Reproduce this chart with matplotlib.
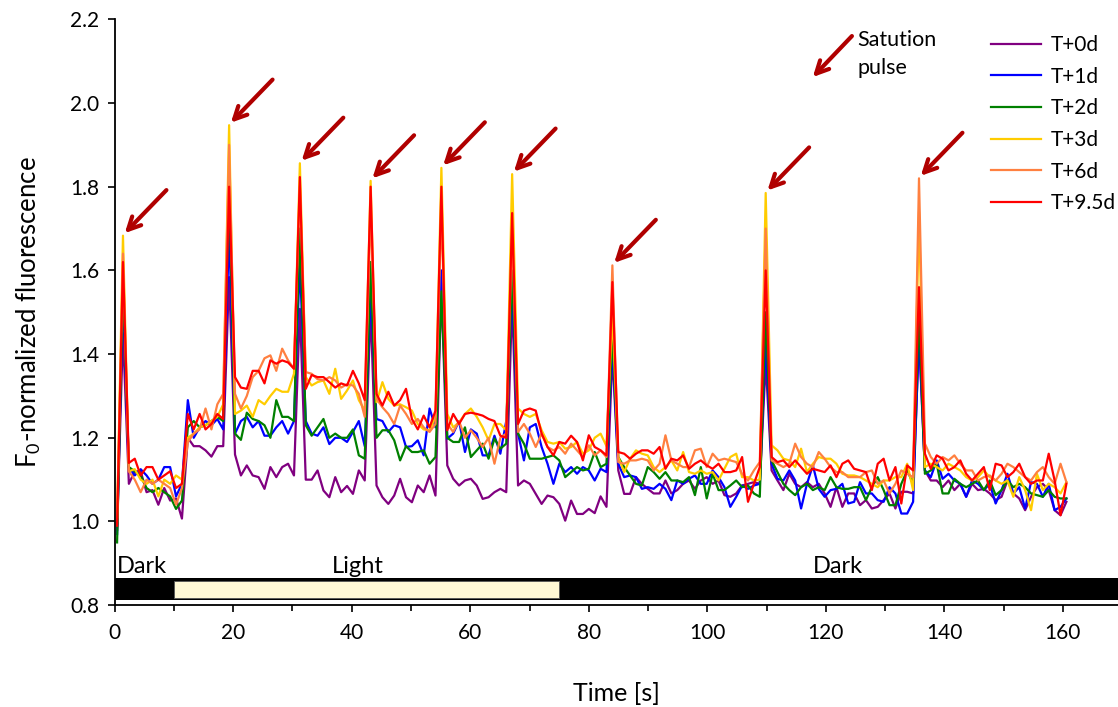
import numpy as np
import matplotlib
matplotlib.use('Agg')
import matplotlib.pyplot as plt
from matplotlib.patches import Rectangle

plt.rcParams['font.family'] = ['Lato', 'DejaVu Sans']
plt.rcParams['mathtext.fontset'] = 'custom'
plt.rcParams['mathtext.rm'] = 'Lato'

# sampling: one point roughly every second
n_points = 162
time_s = 0.4 + 0.995 * np.arange(n_points)

# indices of the saturation pulses
pulse_idx = [1, 19, 31, 43, 55, 67, 84, 110, 136]

t0d = [0.98, 1.45, 1.09, 1.12, 1.12, 1.07, 1.075, 1.04, 1.08, 1.05,
       1.055, 1.007, 1.20, 1.18, 1.18, 1.17, 1.155, 1.18, 1.18, 1.584,
       1.16, 1.11, 1.134, 1.11, 1.106, 1.078, 1.13, 1.106, 1.13, 1.138,
       1.11, 1.508, 1.10, 1.10, 1.122, 1.074, 1.058, 1.106, 1.07, 1.085,
       1.066, 1.122, 1.098, 1.51, 1.086, 1.058, 1.042, 1.062, 1.102, 1.058,
       1.046, 1.086, 1.07, 1.11, 1.062, 1.556, 1.134, 1.102, 1.086, 1.098,
       1.102, 1.086, 1.054, 1.058, 1.07, 1.078, 1.07, 1.528, 1.086, 1.098,
       1.09, 1.066, 1.042, 1.062, 1.058, 1.042, 1.002, 1.05, 1.018, 1.018,
       1.03, 1.02, 1.06, 1.035, 1.40, 1.122, 1.066, 1.066, 1.106, 1.09,
       1.078, 1.067, 1.067, 1.098, 1.067, 1.075, 1.09, 1.098, 1.078, 1.098,
       1.106, 1.09, 1.098, 1.063, 1.059, 1.067, 1.086, 1.09, 1.094, 1.09,
       1.38, 1.122, 1.098, 1.075, 1.114, 1.09, 1.082, 1.094, 1.082, 1.09,
       1.067, 1.035, 1.082, 1.035, 1.067, 1.067, 1.039, 1.051, 1.031, 1.035,
       1.051, 1.067, 1.031, 1.071, 1.071, 1.067, 1.44, 1.122, 1.098, 1.098,
       1.082, 1.098, 1.075, 1.09, 1.059, 1.09, 1.075, 1.078, 1.067, 1.051,
       1.059, 1.098, 1.067, 1.055, 1.027, 1.059, 1.082, 1.09, 1.075, 1.027,
       1.015, 1.047]

t1d = [0.97, 1.55, 1.13, 1.11, 1.125, 1.11, 1.09, 1.10, 1.13, 1.13,
       1.06, 1.09, 1.29, 1.20, 1.225, 1.24, 1.23, 1.245, 1.22, 1.70,
       1.21, 1.24, 1.25, 1.225, 1.24, 1.205, 1.205, 1.225, 1.24, 1.21,
       1.24, 1.62, 1.24, 1.21, 1.205, 1.225, 1.185, 1.20, 1.20, 1.19,
       1.214, 1.24, 1.18, 1.55, 1.245, 1.24, 1.214, 1.23, 1.225, 1.178,
       1.18, 1.194, 1.158, 1.27, 1.225, 1.60, 1.198, 1.21, 1.24, 1.166,
       1.22, 1.21, 1.158, 1.158, 1.205, 1.162, 1.24, 1.55, 1.21, 1.146,
       1.225, 1.233, 1.178, 1.138, 1.09, 1.138, 1.118, 1.13, 1.114, 1.13,
       1.122, 1.098, 1.126, 1.118, 1.42, 1.138, 1.106, 1.11, 1.106, 1.078,
       1.082, 1.078, 1.09, 1.078, 1.051, 1.098, 1.09, 1.102, 1.11, 1.09,
       1.09, 1.122, 1.106, 1.082, 1.035, 1.059, 1.086, 1.078, 1.086, 1.09,
       1.43, 1.138, 1.102, 1.098, 1.122, 1.098, 1.031, 1.09, 1.134, 1.078,
       1.059, 1.075, 1.078, 1.09, 1.043, 1.047, 1.094, 1.067, 1.067, 1.051,
       1.047, 1.082, 1.067, 1.019, 1.019, 1.047, 1.45, 1.122, 1.106, 1.146,
       1.102, 1.114, 1.098, 1.09, 1.059, 1.098, 1.09, 1.075, 1.09, 1.043,
       1.075, 1.114, 1.067, 1.082, 1.031, 1.094, 1.09, 1.059, 1.09, 1.027,
       1.035, 1.055]

t2d = [0.95, 1.58, 1.13, 1.12, 1.11, 1.08, 1.07, 1.08, 1.07, 1.06,
       1.03, 1.05, 1.225, 1.24, 1.225, 1.23, 1.24, 1.25, 1.24, 1.82,
       1.21, 1.195, 1.26, 1.245, 1.24, 1.23, 1.20, 1.29, 1.25, 1.25,
       1.24, 1.70, 1.23, 1.205, 1.225, 1.245, 1.20, 1.21, 1.20, 1.20,
       1.22, 1.158, 1.15, 1.62, 1.20, 1.218, 1.218, 1.194, 1.146, 1.18,
       1.166, 1.166, 1.17, 1.138, 1.154, 1.55, 1.20, 1.19, 1.19, 1.225,
       1.154, 1.17, 1.186, 1.15, 1.198, 1.174, 1.186, 1.60, 1.21, 1.186,
       1.15, 1.15, 1.15, 1.154, 1.158, 1.146, 1.106, 1.118, 1.13, 1.122,
       1.126, 1.166, 1.13, 1.138, 1.45, 1.154, 1.13, 1.11, 1.09, 1.086,
       1.13, 1.118, 1.102, 1.118, 1.098, 1.098, 1.094, 1.106, 1.063, 1.13,
       1.055, 1.114, 1.075, 1.075, 1.086, 1.098, 1.082, 1.086, 1.067, 1.059,
       1.50, 1.146, 1.118, 1.09, 1.075, 1.063, 1.082, 1.09, 1.075, 1.082,
       1.075, 1.106, 1.082, 1.078, 1.078, 1.082, 1.082, 1.051, 1.082, 1.106,
       1.075, 1.039, 1.039, 1.09, 1.122, 1.09, 1.50, 1.114, 1.122, 1.138,
       1.067, 1.067, 1.102, 1.09, 1.082, 1.09, 1.098, 1.075, 1.098, 1.063,
       1.075, 1.098, 1.082, 1.09, 1.082, 1.067, 1.063, 1.059, 1.075, 1.059,
       1.055, 1.055]

t3d = [1.01, 1.683, 1.12, 1.125, 1.10, 1.09, 1.10, 1.06, 1.10, 1.09,
       1.11, 1.10, 1.20, 1.21, 1.225, 1.23, 1.24, 1.25, 1.28, 1.947,
       1.257, 1.265, 1.277, 1.25, 1.29, 1.28, 1.30, 1.317, 1.31, 1.31,
       1.353, 1.856, 1.345, 1.325, 1.333, 1.337, 1.305, 1.365, 1.293, 1.313,
       1.337, 1.29, 1.265, 1.814, 1.285, 1.333, 1.293, 1.277, 1.28, 1.273,
       1.265, 1.233, 1.22, 1.218, 1.25, 1.845, 1.257, 1.225, 1.237, 1.257,
       1.27, 1.25, 1.225, 1.194, 1.233, 1.233, 1.218, 1.83, 1.27, 1.257,
       1.25, 1.257, 1.218, 1.19, 1.186, 1.19, 1.174, 1.178, 1.19, 1.162,
       1.17, 1.20, 1.21, 1.18, 1.50, 1.154, 1.118, 1.15, 1.17, 1.162,
       1.158, 1.13, 1.118, 1.13, 1.146, 1.122, 1.166, 1.118, 1.114, 1.122,
       1.114, 1.118, 1.098, 1.126, 1.154, 1.162, 1.106, 1.106, 1.098, 1.10,
       1.785, 1.182, 1.17, 1.15, 1.146, 1.13, 1.174, 1.118, 1.138, 1.154,
       1.15, 1.15, 1.138, 1.114, 1.11, 1.11, 1.106, 1.098, 1.09, 1.082,
       1.098, 1.098, 1.106, 1.106, 1.138, 1.075, 1.74, 1.13, 1.138, 1.13,
       1.122, 1.138, 1.13, 1.122, 1.106, 1.098, 1.106, 1.122, 1.106, 1.098,
       1.09, 1.098, 1.059, 1.106, 1.075, 1.027, 1.114, 1.075, 1.09, 1.082,
       1.067, 1.094]

t6d = [1.00, 1.64, 1.12, 1.10, 1.07, 1.10, 1.09, 1.10, 1.09, 1.08,
       1.04, 1.08, 1.19, 1.21, 1.22, 1.27, 1.22, 1.28, 1.305, 1.90,
       1.305, 1.27, 1.30, 1.345, 1.36, 1.39, 1.397, 1.36, 1.413, 1.385,
       1.365, 1.80, 1.357, 1.353, 1.34, 1.337, 1.345, 1.337, 1.32, 1.328,
       1.325, 1.305, 1.25, 1.75, 1.293, 1.273, 1.257, 1.233, 1.277, 1.257,
       1.233, 1.245, 1.225, 1.214, 1.233, 1.75, 1.233, 1.214, 1.24, 1.20,
       1.218, 1.20, 1.178, 1.20, 1.138, 1.20, 1.21, 1.70, 1.214, 1.233,
       1.21, 1.178, 1.21, 1.178, 1.17, 1.178, 1.162, 1.186, 1.17, 1.154,
       1.182, 1.158, 1.17, 1.154, 1.612, 1.142, 1.138, 1.146, 1.146, 1.15,
       1.146, 1.122, 1.138, 1.206, 1.146, 1.138, 1.13, 1.13, 1.17, 1.174,
       1.13, 1.162, 1.146, 1.15, 1.146, 1.142, 1.114, 1.098, 1.122, 1.142,
       1.70, 1.146, 1.138, 1.13, 1.138, 1.186, 1.154, 1.138, 1.13, 1.166,
       1.15, 1.13, 1.118, 1.118, 1.106, 1.106, 1.106, 1.118, 1.122, 1.09,
       1.098, 1.067, 1.09, 1.122, 1.114, 1.106, 1.82, 1.186, 1.154, 1.138,
       1.154, 1.146, 1.158, 1.138, 1.122, 1.122, 1.098, 1.106, 1.11, 1.098,
       1.114, 1.138, 1.13, 1.118, 1.106, 1.098, 1.118, 1.13, 1.106, 1.09,
       1.138, 1.094]

t9_5d = [0.99, 1.62, 1.14, 1.15, 1.11, 1.13, 1.13, 1.10, 1.11, 1.12,
         1.08, 1.09, 1.257, 1.22, 1.257, 1.22, 1.233, 1.257, 1.245, 1.80,
         1.345, 1.32, 1.317, 1.36, 1.36, 1.33, 1.385, 1.377, 1.385, 1.38,
         1.365, 1.823, 1.317, 1.35, 1.345, 1.345, 1.333, 1.32, 1.33, 1.325,
         1.36, 1.33, 1.29, 1.80, 1.305, 1.277, 1.31, 1.277, 1.29, 1.317,
         1.245, 1.22, 1.253, 1.225, 1.265, 1.80, 1.218, 1.257, 1.233, 1.257,
         1.26, 1.257, 1.253, 1.245, 1.24, 1.205, 1.20, 1.737, 1.233, 1.265,
         1.27, 1.265, 1.21, 1.178, 1.158, 1.19, 1.186, 1.205, 1.19, 1.146,
         1.206, 1.178, 1.17, 1.158, 1.572, 1.166, 1.162, 1.15, 1.162, 1.17,
         1.17, 1.162, 1.178, 1.126, 1.15, 1.146, 1.158, 1.126, 1.138, 1.146,
         1.134, 1.126, 1.138, 1.118, 1.118, 1.122, 1.154, 1.047, 1.09, 1.13,
         1.60, 1.154, 1.142, 1.146, 1.13, 1.146, 1.13, 1.114, 1.126, 1.122,
         1.118, 1.134, 1.106, 1.138, 1.146, 1.126, 1.122, 1.118, 1.075, 1.138,
         1.15, 1.098, 1.13, 1.043, 1.134, 1.122, 1.56, 1.162, 1.126, 1.158,
         1.15, 1.122, 1.13, 1.146, 1.114, 1.098, 1.114, 1.13, 1.075, 1.138,
         1.134, 1.106, 1.118, 1.138, 1.106, 1.09, 1.098, 1.098, 1.162, 1.098,
         1.015, 1.09]

series = [t0d, t1d, t2d, t3d, t6d, t9_5d]
labels = ['T+0d', 'T+1d', 'T+2d', 'T+3d', 'T+6d', 'T+9.5d']
colors = ['#800080', '#0000FF', '#008000', '#FFCC00', '#FF8040', '#FF0000']

fig = plt.figure(figsize=(11.18, 7.07), dpi=100)
ax = fig.add_axes([0.1026, 0.144, 0.8974, 0.8287])

for vals, lab, col in zip(series, labels, colors):
    ax.plot(time_s, vals, color=col, lw=1.6, label=lab)

# dark / light bar
ax.add_patch(Rectangle((0, 0.813), 172, 0.051, facecolor='black',
                       edgecolor='none', clip_on=False, zorder=3))
ax.add_patch(Rectangle((10, 0.817), 65, 0.042, facecolor='#FFF8D5',
                       edgecolor='#555555', lw=0.6, zorder=4))
ax.text(0.3, 0.892, 'Dark', fontsize=17, va='center', ha='left')
ax.text(41, 0.892, 'Light', fontsize=17, va='center', ha='center')
ax.text(122, 0.892, 'Dark', fontsize=17, va='center', ha='center')

# saturation pulse arrows
arr_col = '#B00000'
for k in pulse_idx:
    top = max(s[k] for s in series)
    ax.annotate('', xy=(time_s[k] + 0.3, top + 0.006), xytext=(30, 31),
                textcoords='offset points',
                arrowprops=dict(arrowstyle='->,head_length=0.9,head_width=0.45',
                                color=arr_col, lw=3, shrinkA=0, shrinkB=0))

ax.annotate('', xy=(0.727, 0.891), xytext=(0.762, 0.949),
            xycoords='figure fraction', textcoords='figure fraction',
            arrowprops=dict(arrowstyle='->,head_length=0.9,head_width=0.45',
                            color=arr_col, lw=3, shrinkA=0, shrinkB=0))
fig.text(0.7666, 0.957, 'Satution\npulse', fontsize=15.5, va='top', ha='left',
         linespacing=1.45)

ax.legend(loc='upper left', bbox_to_anchor=(0.8712, 0.974),
          bbox_transform=fig.transFigure, frameon=False, fontsize=15,
          handlelength=2.4, handletextpad=0.5, labelspacing=0.56,
          borderpad=0.3)

ax.set_xlim(0, 169.3)
ax.set_ylim(0.8, 2.2)
ax.set_xticks(np.arange(0, 161, 20))
ax.set_xticks(np.arange(0, 170, 10), minor=True)
ax.set_yticks(np.arange(0.8, 2.21, 0.2))
ax.set_yticklabels(['%.1f' % v for v in np.arange(0.8, 2.21, 0.2)])
ax.tick_params(axis='both', labelsize=15, direction='out', length=5,
               width=1.2, pad=6)
ax.tick_params(axis='x', which='minor', length=4, width=1.2)
ax.tick_params(axis='x', pad=8)
for s in ['top', 'right']:
    ax.spines[s].set_visible(False)
for s in ['left', 'bottom']:
    ax.spines[s].set_linewidth(1.3)

ax.set_xlabel('Time [s]', fontsize=18, labelpad=28)
ax.set_ylabel(r'F$_\mathregular{0}$-normalized fluorescence', fontsize=18.5,
              labelpad=20)

fig.savefig('out.png', dpi=100)
